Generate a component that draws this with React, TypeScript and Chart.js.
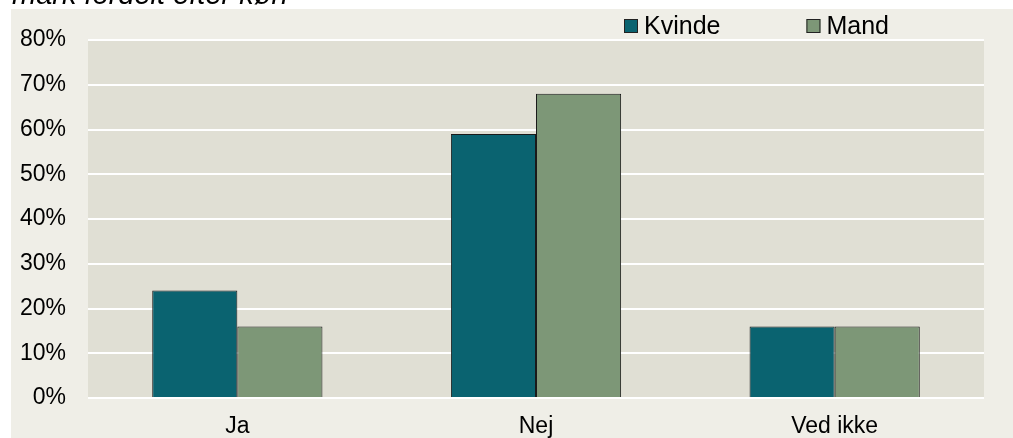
import React, { useEffect, useRef } from 'react';
import { Chart, registerables } from 'chart.js';

Chart.register(...registerables);

const categories = ['Ja', 'Nej', 'Ved ikke'];
const seriesNames = ['Kvinde', 'Mand'];
const kvindeValues = [24, 59, 16];
const mandValues = [16, 68, 16];
const yMin = 0;
const yMax = 80;
const yStep = 10;
const titleText = 'mark fordelt efter køn';

const FONT = '"Liberation Sans", Arial, sans-serif';
const W = 1013;
const H = 438;
const COLORS = ['#0A6370', '#7D9777'];

export default function App() {
  const ref = useRef<HTMLCanvasElement>(null);

  useEffect(() => {
    document.body.style.margin = '0';
    const canvas = ref.current;
    if (!canvas) return;

    const decor = {
      id: 'decor',
      beforeDraw(chart: any) {
        const { ctx, chartArea } = chart;
        ctx.save();
        ctx.fillStyle = '#ffffff';
        ctx.fillRect(0, 0, W, H);
        ctx.fillStyle = '#EFEEE7';
        ctx.fillRect(11, 9, W - 11, H - 9);
        ctx.fillStyle = '#E0DFD4';
        ctx.fillRect(chartArea.left, chartArea.top, chartArea.right - chartArea.left, chartArea.bottom - chartArea.top);
        ctx.restore();
      },
      afterDraw(chart: any) {
        const { ctx } = chart;
        ctx.save();
        // clipped title
        ctx.font = `italic 29px ${FONT}`;
        ctx.fillStyle = '#000';
        ctx.textBaseline = 'alphabetic';
        ctx.textAlign = 'left';
        ctx.fillText(titleText, 12, 4);
        // legend
        ctx.font = `25px ${FONT}`;
        ctx.textBaseline = 'middle';
        let x = 624;
        const yc = 26;
        chart.data.datasets.forEach((ds: any) => {
          ctx.fillStyle = ds.backgroundColor;
          ctx.fillRect(x, yc - 7, 14, 14);
          ctx.strokeStyle = '#222';
          ctx.lineWidth = 1;
          ctx.strokeRect(x + 0.5, yc - 6.5, 13, 13);
          ctx.fillStyle = '#000';
          ctx.fillText(ds.label, x + 20, yc + 1);
          const tw = ctx.measureText(ds.label).width;
          x = x + 20 + tw + 86;
        });
        ctx.restore();
      },
    };

    const chart = new Chart(canvas, {
      type: 'bar',
      data: {
        labels: categories,
        datasets: [
          {
            label: seriesNames[0],
            data: kvindeValues,
            backgroundColor: COLORS[0],
            borderColor: '#1a1a1a',
            borderWidth: 1,
          },
          {
            label: seriesNames[1],
            data: mandValues,
            backgroundColor: COLORS[1],
            borderColor: '#1a1a1a',
            borderWidth: 1,
          },
        ],
      },
      options: {
        responsive: false,
        animation: false,
        events: [],
        layout: { padding: { left: 0, right: 29, top: 40, bottom: 0 } },
        datasets: { bar: { categoryPercentage: 0.57, barPercentage: 1.0 } },
        plugins: {
          legend: { display: false },
          tooltip: { enabled: false },
          title: { display: false },
        },
        scales: {
          x: {
            grid: { display: false, drawTicks: false },
            border: { display: false },
            ticks: { color: '#000', font: { family: FONT, size: 23 }, padding: 15 },
            afterFit: (s: any) => {
              s.height = 40;
            },
          },
          y: {
            min: yMin,
            max: yMax,
            grid: { color: '#ffffff', lineWidth: 2, drawTicks: false },
            border: { display: false },
            ticks: {
              stepSize: yStep,
              color: '#000',
              font: { family: FONT, size: 23 },
              padding: 22,
              callback: (v: any) => `${v}%`,
            },
            afterFit: (s: any) => {
              s.width = 88;
            },
          },
        },
      },
      plugins: [decor],
    });

    return () => chart.destroy();
  }, []);

  return (
    <div style={{ width: W, height: H }}>
      <canvas ref={ref} width={W} height={H} style={{ display: 'block' }} />
    </div>
  );
}
